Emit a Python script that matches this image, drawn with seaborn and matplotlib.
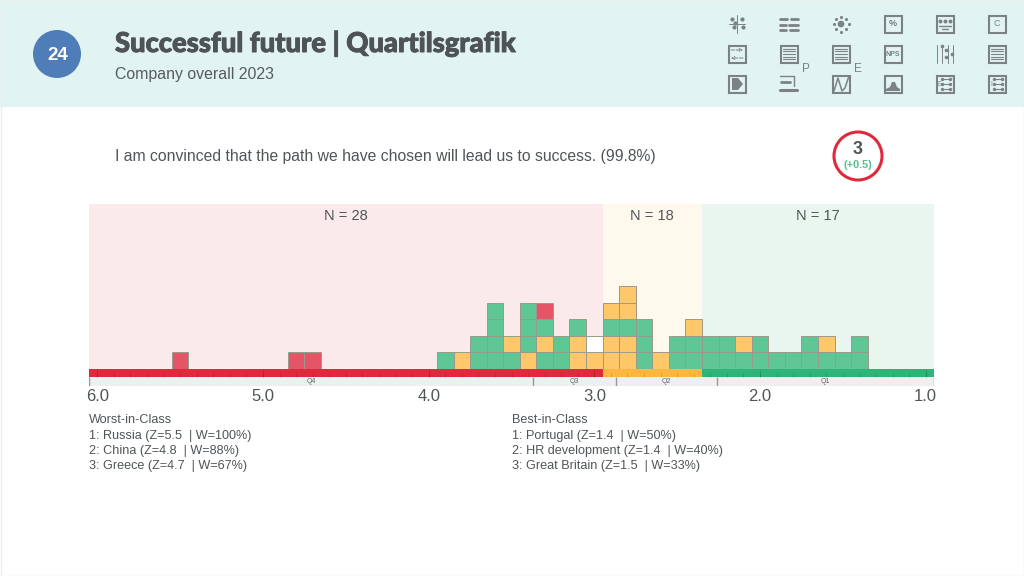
import matplotlib
matplotlib.use("Agg")
import matplotlib.pyplot as plt
from matplotlib.patches import Rectangle, Circle, Polygon
import matplotlib.patheffects as pe
import numpy as np
import seaborn as sns

sns.set_theme(style="white")
SANS = "Liberation Sans"
plt.rcParams["font.family"] = [SANS, "DejaVu Sans"]

# ---------- data ----------
TITLE = "Successful future | Quartilsgrafik"
SUBTITLE = "Company overall 2023"
BADGE = "24"
QUESTION = "I am convinced that the path we have chosen will lead us to success. (99.8%)"
SCORE = "3"
DELTA = "(+0.5)"
bin_values = [5.5, 4.8, 4.7, 3.9, 3.8, 3.7, 3.6, 3.5, 3.4, 3.3, 3.2, 3.1, 3.0, 2.9, 2.8,
              2.7, 2.6, 2.5, 2.4, 2.3, 2.2, 2.1, 2.0, 1.9, 1.8, 1.7, 1.6, 1.5, 1.4]
# one letter per square, bottom to top: R red, Y yellow, G green, W white
bin_stacks = ["R", "R", "R", "G", "Y", "GG", "GGGG", "GY", "YGGG", "GYGR", "GG", "YYG", "YW", "YYGY", "YYGYY",
              "GGG", "Y", "GG", "GGY", "GG", "GG", "GY", "GG", "G", "G", "GG", "GY", "G", "GG"]
zone_edges = [6.05, 2.95, 2.35, 0.95]
zone_labels = ["N = 28", "N = 18", "N = 17"]
quartile_edges = [6.05, 3.37, 2.87, 2.26, 0.95]
quartile_labels = ["Q4", "Q3", "Q2", "Q1"]
axis_ticks = [6.0, 5.0, 4.0, 3.0, 2.0, 1.0]
worst_lines = ["Worst-in-Class", "1: Russia (Z=5.5  | W=100%)", "2: China (Z=4.8  | W=88%)", "3: Greece (Z=4.7  | W=67%)"]
best_lines = ["Best-in-Class", "1: Portugal (Z=1.4  | W=50%)", "2: HR development (Z=1.4  | W=40%)", "3: Great Britain (Z=1.5  | W=33%)"]

# ---------- style ----------
CELL = {"R": "#E45567", "Y": "#FDC76A", "G": "#5FC795", "W": "#FFFFFF"}
ZONE_BG = ["#FAEAEB", "#FFF8EC", "#E9F6F0"]
STRIP = ["#DE2A3C", "#FBB73F", "#2FB478"]
ICON = "#7C8183"
TXT = "#505558"
W, H = 1024, 576

fig = plt.figure(figsize=(W / 100, H / 100), dpi=100, facecolor="white")

# page overlay in pixel coordinates
bg = fig.add_axes([0, 0, 1, 1], zorder=0)
bg.set_xlim(0, W); bg.set_ylim(H, 0); bg.axis("off")
bg.add_patch(Rectangle((0, 0), W, 107, fc="#E2F4F2", ec="none"))
bg.add_patch(Rectangle((0.5, 0.5), W - 1, H - 1, fc="none", ec="#EDEDED", lw=1))
bg.add_patch(Circle((57, 54), 24, fc="#4F7DB8", ec="none"))
bg.text(57.5, 55, BADGE, color="white", fontsize=13.5, fontweight="bold", ha="center", va="center")
title = bg.text(115, 43.5, TITLE, color="#4E5355", fontsize=19.7, fontweight=900, family="Lato", ha="left", va="center")
title.set_path_effects([pe.withStroke(linewidth=0.7, foreground="#4E5355")])
bg.text(115, 74, SUBTITLE, color="#555B5E", fontsize=11.4, ha="left", va="center")
bg.text(115, 156.5, QUESTION, color=TXT, fontsize=11.36, ha="left", va="center")
bg.add_patch(Circle((858, 156), 24, fc="white", ec="#DE2A3C", lw=2.2))
bg.text(858, 149.5, SCORE, color=TXT, fontsize=13, fontweight="bold", ha="center", va="center")
bg.text(858, 165.5, DELTA, color="#55C08F", fontsize=7.8, fontweight="bold", ha="center", va="center")
for x, lines in ((89, worst_lines), (512, best_lines)):
    for i, s in enumerate(lines):
        bg.text(x, 420 + i * 15.5, s, color=TXT, fontsize=9.1, ha="left", va="center")

# icons
cols = [737, 789, 841, 893, 945, 997]
rows = [24, 54, 84]
def box(cx, cy, s=8.5):
    bg.add_patch(Rectangle((cx - s, cy - s), 2 * s, 2 * s, fc="none", ec=ICON, lw=1.5))
def hlines(cx, cy, n=5, s=6, gap=2.6):
    for k in range(n):
        y = cy + (k - (n - 1) / 2) * gap
        bg.plot([cx - s, cx + s], [y, y], color=ICON, lw=0.8)
def dots(xs, ys, s=5):
    bg.scatter(xs, ys, s=s, color=ICON, lw=0)
c, r = cols, rows
# row 1
bg.plot([c[0], c[0]], [r[0] - 9, r[0] + 9], color=ICON, lw=0.7)
bg.plot([c[0] - 8, c[0] + 8], [r[0], r[0]], color=ICON, lw=0.7)
dots([c[0] - 5, c[0] - 2, c[0] + 5, c[0] - 3, c[0] + 6], [r[0] - 5, r[0] - 1, r[0] - 5, r[0] + 3, r[0] + 3], 9)
for x0, x1, y in ((-9, -2, -5.5), (2, 9, -5.5), (-9, -3, 0.5), (0, 9, 0.5), (-9, -3, 6), (1, 9, 6)):
    bg.plot([c[1] + x0, c[1] + x1], [r[0] + y, r[0] + y], color=ICON, lw=2, solid_capstyle="round")
bg.add_patch(Circle((c[2], r[0]), 3.3, fc=ICON, ec="none"))
ang = np.deg2rad(np.arange(0, 360, 45))
dots(c[2] + 7.5 * np.cos(ang), r[0] + 7.5 * np.sin(ang), 5)
box(c[3], r[0]); bg.text(c[3], r[0], "%", color=ICON, fontsize=6.5, fontweight="bold", ha="center", va="center")
box(c[4], r[0]); dots([c[4] - 5, c[4], c[4] + 5], [r[0] - 3, r[0] - 3, r[0] - 3], 8)
bg.plot([c[4] - 6, c[4] + 6], [r[0] + 2, r[0] + 2], color=ICON, lw=1)
bg.plot([c[4] - 3, c[4] + 3], [r[0] + 5, r[0] + 5], color=ICON, lw=1)
box(c[5], r[0]); bg.text(c[5], r[0], "C", color=ICON, fontsize=6.5, ha="center", va="center")
# row 2
box(c[0], r[1])
bg.annotate("", (c[0] + 6, r[1] - 4), (c[0] - 6, r[1] - 4), arrowprops=dict(arrowstyle="->", color=ICON, lw=0.7, ls="--", mutation_scale=5, shrinkA=0, shrinkB=0))
bg.annotate("", (c[0] - 6, r[1] + 4), (c[0] + 6, r[1] + 4), arrowprops=dict(arrowstyle="->", color=ICON, lw=0.7, ls="--", mutation_scale=5, shrinkA=0, shrinkB=0))
for i in (1, 2, 5):
    box(c[i], r[1]); hlines(c[i], r[1])
box(c[3], r[1]); bg.text(c[3], r[1], "NPS", color=ICON, fontsize=5, fontweight="bold", ha="center", va="center")
for dx in (-8, -3, 3, 8):
    bg.plot([c[4] + dx, c[4] + dx], [r[1] - 9, r[1] + 9], color=ICON, lw=0.7)
dots([c[4] - 3, c[4] + 1, c[4] + 1, c[4] + 7], [r[1] - 8, r[1] - 4, r[1] + 3, r[1]], 7)
# row 3
box(c[0], r[2]); bg.add_patch(Polygon([(c[0] - 5, r[2] - 6), (c[0] + 1, r[2] - 6), (c[0] + 6, r[2]), (c[0] + 1, r[2] + 6), (c[0] - 5, r[2] + 6)], fc=ICON, ec="none"))
bg.plot([c[1] - 9, c[1] + 5, c[1] + 5], [r[2] - 8, r[2] - 8, r[2] + 2], color=ICON, lw=1)
bg.plot([c[1] - 8, c[1] + 1], [r[2] - 2, r[2] - 2], color=ICON, lw=2)
bg.plot([c[1] - 9, c[1] + 8], [r[2] + 6, r[2] + 6], color=ICON, lw=2.2)
box(c[2], r[2]); bg.plot([c[2] - 7, c[2] - 3, c[2] + 1, c[2] + 4, c[2] + 8], [r[2] + 7, r[2] - 6, r[2] + 7, r[2] + 4, r[2] - 8], color=ICON, lw=1.1)
box(c[3], r[2]); bg.add_patch(Polygon([(c[3] - 7, r[2] + 7), (c[3] - 7, r[2] + 5), (c[3] - 3, r[2] + 3), (c[3] - 1, r[2] - 2), (c[3] + 2, r[2] - 2), (c[3] + 4, r[2] + 3), (c[3] + 7, r[2] + 5), (c[3] + 7, r[2] + 7)], fc=ICON, ec="none"))
for i in (4, 5):
    box(c[i], r[2])
    for dy in (-5, 0, 5):
        bg.plot([c[i] - 4, c[i] + 6], [r[2] + dy, r[2] + dy], color=ICON, lw=0.8)
        dots([c[i] - 3, c[i] + 5], [r[2] + dy, r[2] + dy], 6)
bg.text(c[4] - 6, r[2], "E", color=ICON, fontsize=5, ha="center", va="center")
bg.text(c[5] - 6, r[2], "I", color=ICON, fontsize=5, ha="center", va="center")
bg.text(806, 68.5, "P", color=ICON, fontsize=8.5, ha="center", va="center")
bg.text(858, 68.5, "E", color=ICON, fontsize=8.5, ha="center", va="center")

# chart axes: pixel box 89..934 wide, 204..386 tall, y unit = one square
left, right, top, bottom = 89, 934, 204, 386
ax = fig.add_axes([left / W, 1 - bottom / H, (right - left) / W, (bottom - top) / H], zorder=1)
ax.patch.set_alpha(0)
unit = (right - left) / (zone_edges[0] - zone_edges[-1]) / 10
y_low, y_high = -(386 - 369) / unit, (369 - 204) / unit
strip_mid = -(377 - 369) / unit

for i in range(3):
    ax.fill_between([zone_edges[i], zone_edges[i + 1]], 0, y_high, color=ZONE_BG[i], lw=0, zorder=0)
    ax.text((zone_edges[i] + zone_edges[i + 1]) / 2, y_high - 0.72, zone_labels[i], color=TXT, fontsize=10.5, ha="center", va="center")

# squares: one seaborn histogram per row, painted from the top row downward
edges = [round(1.35 + k * 0.1, 2) for k in range(43)]
max_row = max(len(s) for s in bin_stacks)
for row in range(max_row, 0, -1):
    for key in "RYGW":
        vals = [v for v, s in zip(bin_values, bin_stacks) if len(s) >= row and s[row - 1] == key]
        if vals:
            before = len(ax.patches)
            sns.histplot(x=vals, weights=[row] * len(vals), bins=edges, color=CELL[key], alpha=1,
                         edgecolor="#9A9A8C", linewidth=0.7, ax=ax, zorder=2)
            for p in ax.patches[before:]:
                if p.get_height() == 0:
                    p.set_visible(False)

# strips
for i in range(3):
    ax.fill_between([zone_edges[i], zone_edges[i + 1]], strip_mid, 0, color=STRIP[i], lw=0, zorder=3)
ax.fill_between([zone_edges[0], zone_edges[-1]], y_low, strip_mid, color="#EFEFEF", lw=0, zorder=3)
minor = np.round(np.arange(1.0, 6.01, 0.1), 1)
ax.vlines(minor, strip_mid, strip_mid * 0.45, color="#000000", alpha=0.12, lw=0.7, zorder=4)
ax.vlines(axis_ticks, strip_mid, 0, color="#000000", alpha=0.12, lw=0.8, zorder=4)
ax.vlines(quartile_edges, y_low, strip_mid, color="#999999", lw=1, zorder=4)
for i, q in enumerate(quartile_labels):
    ax.text((quartile_edges[i] + quartile_edges[i + 1]) / 2, (y_low + strip_mid) / 2, q,
            color="#666666", fontsize=5, ha="center", va="center", zorder=5)

ax.set_xlim(zone_edges[0], zone_edges[-1])
ax.set_ylim(y_low, y_high)
ax.set_xticks(axis_ticks)
ax.set_xticklabels([f"{v:.1f}" for v in axis_ticks], fontsize=12, color=TXT)
ax.tick_params(axis="x", length=0, pad=2)
ax.set_yticks([])
ax.set_xlabel(""); ax.set_ylabel("")
for s in ax.spines.values():
    s.set_visible(False)

fig.savefig("out.png", dpi=100)
